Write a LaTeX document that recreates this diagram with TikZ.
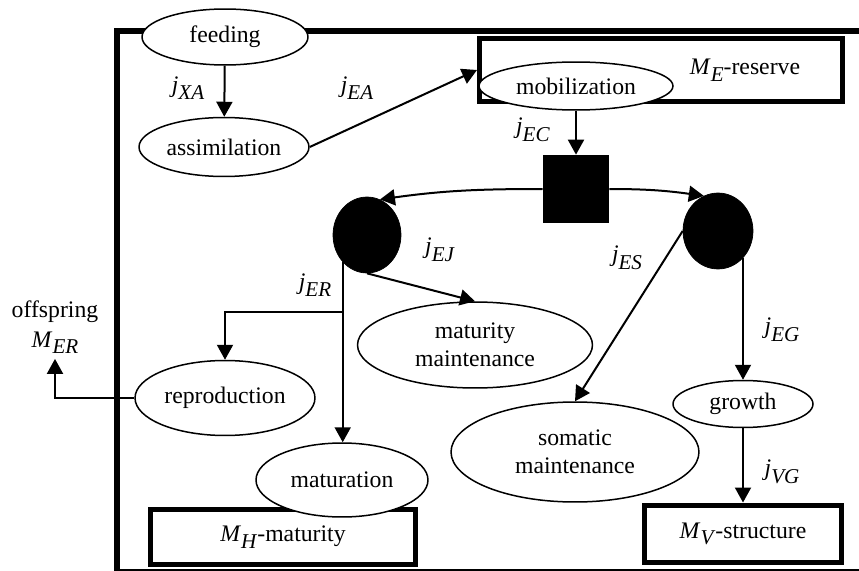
\documentclass[tikz,border=0pt]{standalone}
\usepackage{fontspec}
\setmainfont{Liberation Serif}
\usetikzlibrary{shapes.geometric, arrows.meta}
\newcommand{\jflux}[1]{\textit{j}\raisebox{-0.7ex}{\fontsize{12}{12}\selectfont\textit{#1}}}
\newcommand{\mass}[1]{\textit{M}\raisebox{-0.6ex}{\fontsize{12}{12}\selectfont\textit{#1}}}

\begin{document}
\begin{tikzpicture}[x=0.02cm,y=-0.02cm]
							\tikzstyle{proc} = [ellipse,fill=white,draw=black,line width=0.03cm,inner sep=0pt]
							\tikzstyle{pool} = [rectangle,draw=black,line width=0.1cm,inner sep=0pt]
							\tikzstyle{blob} = [ellipse,fill=black,draw=black,inner sep=0pt]
							\tikzstyle{lbl} = [inner sep=0pt]
							\tikzstyle{edge} = [-{Triangle[length=0.3cm,width=0.32cm]},line width=0.04cm]
							\useasboundingbox (0,0) rectangle (859,571);
							\fontsize{13.5}{16}\selectfont
							% outer frame
							\draw[line width=0.12cm] (117,571) -- (117,31) -- (859,31);
							\draw[line width=0.03cm] (117,570) -- (859,570);
							% pools
							\node[pool,minimum width=7.26cm,minimum height=1.28cm] (reserve) at (661,70) {};
							\node[lbl] (reservetxt) at (745,70) {\mass{E}-reserve};
							\node[pool,minimum width=5.3cm,minimum height=1.1cm] (maturity) at (283,537) {\mass{H}-maturity};
							\node[pool,minimum width=3.96cm,minimum height=1.16cm] (structure) at (743,534) {\mass{V}-structure};
							% processes
							\node[proc,minimum width=3.32cm,minimum height=1.12cm] (feeding) at (225,37) {feeding};
							\node[proc,minimum width=3.4cm,minimum height=1.18cm] (assim) at (224,147) {assimilation};
							\node[proc,minimum width=3.88cm,minimum height=0.96cm] (mobil) at (576,86) {mobilization};
							\node[proc,minimum width=4.7cm,minimum height=1.72cm,align=center] (matmaint) at (475,345) {maturity\\maintenance};
							\node[proc,minimum width=3.6cm,minimum height=1.5cm] (repro) at (225,398) {reproduction};
							\node[proc,minimum width=3.44cm,minimum height=1.48cm] (matur) at (342,480) {maturation};
							\node[proc,minimum width=4.96cm,minimum height=2.0cm,align=center] (somatic) at (575,452) {somatic\\maintenance};
							\node[proc,minimum width=2.8cm,minimum height=0.94cm] (growth) at (743,404) {growth};
							% switches
							\node[rectangle,fill=black,minimum width=1.32cm,minimum height=1.36cm,inner sep=0pt] (sq) at (576,189) {};
							\node[blob,minimum width=1.36cm,minimum height=1.52cm] (lc) at (367,235) {};
							\node[blob,minimum width=1.4cm,minimum height=1.52cm] (rc) at (718,231) {};
							\node[lbl,align=center] (off) at (55,327) {offspring\\[1pt]\mass{ER}};
							\coordinate (br) at (342,312);
							
							\draw[edge] (feeding) -- (assim);
							\draw[edge] (assim.east) -- (reserve.west);
							\draw[edge] (mobil) -- (sq);
							\draw[edge] (sq.west) to[out=180,in=8] (lc.70);
							\draw[edge] (sq.east) to[out=0,in=172] (rc.112);
							\draw[edge] (lc.south west) -- (lc.south west |- matur.north);
							\draw[edge] (br) -| (repro.north);
							\draw[edge] (repro.west) -| ([yshift=-0.1cm]off.south);
							\draw[edge] (lc.south) -- (matmaint.north);
							\draw[edge] (rc.west) -- (somatic.north);
							\draw[edge] (rc.south east) -- (rc.south east |- growth.north);
							\draw[edge] (growth) -- (structure);
							
							\node[lbl] (jxa) at (188,88) {\jflux{XA}};
							\node[lbl] (jea) at (357,88) {\jflux{EA}};
							\node[lbl] (jec) at (533,130) {\jflux{EC}};
							\node[lbl] (jer) at (315,285) {\jflux{ER}};
							\node[lbl] (jej) at (440,250) {\jflux{EJ}};
							\node[lbl] (jes) at (627,258) {\jflux{ES}};
							\node[lbl] (jeg) at (782,330) {\jflux{EG}};
							\node[lbl] (jvg) at (782,472) {\jflux{VG}};
							\end{tikzpicture}
\end{document}
